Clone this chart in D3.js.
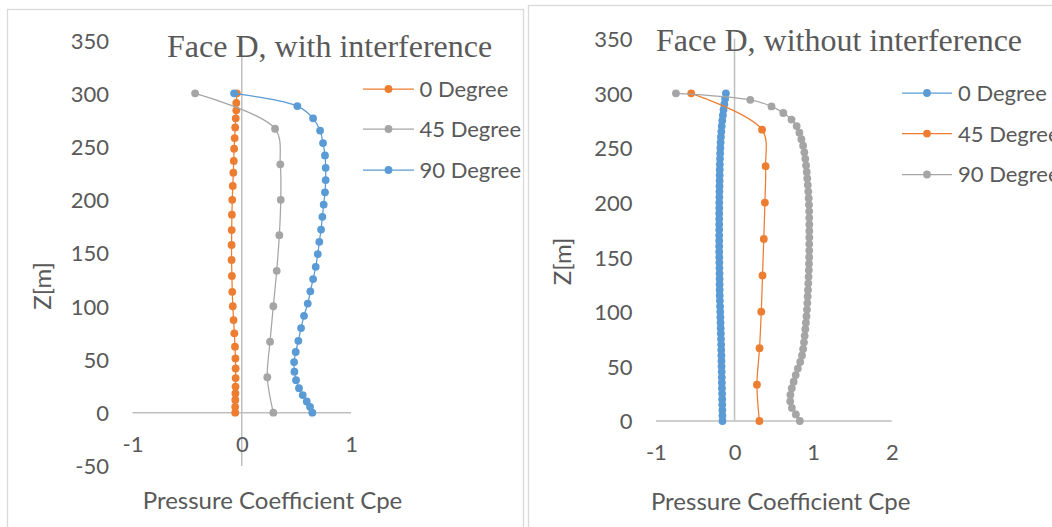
<!DOCTYPE html>
<html><head><meta charset="utf-8">
<script src="https://cdn.jsdelivr.net/npm/d3@7"></script>
<style>
html,body{margin:0;padding:0;background:#fff;}
svg{display:block;}
</style></head>
<body>
<svg id="chart" width="1052" height="527"></svg>
<script>
// ---------- DATA ----------
// Left chart: Face D, with interference
const leftTitle = "Face D, with interference";
const leftSeriesNames = ["0 Degree", "45 Degree", "90 Degree"];
const leftZ0 = [300,291,284,276.5,268,258,248,236.5,225.5,213,200,186,171.5,157.5,143.5,128.5,113.5,100,87,74.5,62,51,41.5,32.5,24.5,18,12,5.5,0];
const leftCp0 = [-0.045,-0.05,-0.05,-0.055,-0.06,-0.065,-0.07,-0.073,-0.077,-0.082,-0.087,-0.09,-0.092,-0.093,-0.093,-0.09,-0.087,-0.082,-0.075,-0.068,-0.062,-0.058,-0.056,-0.056,-0.057,-0.058,-0.059,-0.06,-0.06];
const leftZ45 = [300,266.7,233.3,200,166.7,133.3,100,66.7,33.3,0];
const leftCp45 = [-0.427,0.305,0.353,0.357,0.344,0.32,0.289,0.259,0.234,0.289];
const leftZ90 = [300,288,276.5,265,253.3,241.7,230,218.5,207,195.5,184,172,160.5,149,137,125.5,114,102.5,91,79.5,67.5,57,47.5,38.5,30.5,23,16.5,10.5,5.5,0];
const leftCp90 = [-0.07,0.509,0.653,0.717,0.744,0.762,0.768,0.768,0.762,0.75,0.738,0.726,0.71,0.696,0.677,0.653,0.628,0.604,0.57,0.543,0.518,0.494,0.479,0.482,0.497,0.524,0.558,0.595,0.625,0.646];
const leftXTicks = [-1, 0, 1];
const leftYTicks = [-50, 0, 50, 100, 150, 200, 250, 300, 350];

// Right chart: Face D, without interference
const rightTitle = "Face D, without interference";
const rightSeriesNames = ["0 Degree", "45 Degree", "90 Degree"];
const rightZ0 = [300,295,290,285,280,275,270,265,260,255,250,245,240,235,230,225,220,215,210,205,200,195,190,185,180,175,170,165,160,155,150,145,140,135,130,125,120,115,110,105,100,95,90,85,80,75,70,65,60,55,50,45,40,35,30,25,20,15,10,5,0];
const rightCp0 = [-0.11,-0.12,-0.13,-0.14,-0.148,-0.156,-0.163,-0.168,-0.173,-0.177,-0.18,-0.183,-0.185,-0.187,-0.188,-0.189,-0.19,-0.191,-0.192,-0.193,-0.194,-0.194,-0.195,-0.195,-0.195,-0.195,-0.195,-0.195,-0.195,-0.195,-0.194,-0.193,-0.192,-0.191,-0.19,-0.19,-0.189,-0.188,-0.186,-0.184,-0.182,-0.18,-0.178,-0.176,-0.174,-0.172,-0.17,-0.169,-0.167,-0.166,-0.165,-0.163,-0.162,-0.161,-0.16,-0.158,-0.157,-0.156,-0.155,-0.154,-0.153];
const rightZ45 = [300,266.7,233.3,200,166.7,133.3,100,66.7,33.3,0];
const rightCp45 = [-0.551,0.35,0.395,0.386,0.372,0.356,0.34,0.318,0.285,0.316];
const rightZ90 = [300,294,288,282,276,270,264,258,252,246,240,234,228,222,216,210,204,198,192,186,180,174,168,162,156,150,144,138,132,126,120,114,108,102,96,90,84,78,72,66,60,54,48,42,36,30,24,18,12,6,0];
const rightCp90 = [-0.745,0.2,0.47,0.62,0.725,0.79,0.825,0.85,0.872,0.888,0.9,0.91,0.918,0.925,0.932,0.938,0.943,0.947,0.949,0.95,0.951,0.951,0.951,0.95,0.95,0.949,0.947,0.945,0.942,0.938,0.934,0.93,0.926,0.921,0.915,0.908,0.9,0.892,0.883,0.872,0.858,0.835,0.805,0.778,0.752,0.728,0.71,0.708,0.73,0.78,0.83];
const rightXTicks = [-1, 0, 1, 2];
const rightYTicks = [0, 50, 100, 150, 200, 250, 300, 350];

const xAxisTitle = "Pressure Coefficient Cpe";
const yAxisTitle = "Z[m]";

const ORANGE = "#ED7D31", GRAY = "#A5A5A5", BLUE = "#5B9BD5";
const TEXT = "#595959", AXIS = "#BFBFBF", BORDER = "#D9D9D9";
const SANS = "Lato, 'Open Sans', sans-serif";
const SERIF = "'Liberation Serif', 'Times New Roman', serif";

const svg = d3.select("#chart");
svg.append("rect").attr("width",1052).attr("height",527).attr("fill","#fff");

function zip(z, cp){ return z.map((v,i)=>({z:v, cp:cp[i]})); }

function drawPanel(o){
  const g = svg.append("g");
  // chart border
  g.append("rect").attr("x",o.border[0]).attr("y",o.border[1]).attr("width",o.border[2]).attr("height",o.border[3])
    .attr("fill","none").attr("stroke",BORDER).attr("stroke-width",1.3);

  const x = d3.scaleLinear().domain(o.xDomain).range(o.xRange);
  const y = d3.scaleLinear().domain(o.yDomain).range(o.yRange);

  // axis lines (cross at zero)
  g.append("line").attr("x1",x(o.xDomain[0])).attr("x2",x(o.xDomain[1])).attr("y1",y(0)).attr("y2",y(0))
    .attr("stroke",AXIS).attr("stroke-width",1.5);
  g.append("line").attr("x1",x(0)).attr("x2",x(0)).attr("y1",y(o.yDomain[1])).attr("y2",y(o.yDomain[0]))
    .attr("stroke",AXIS).attr("stroke-width",1.5);

  // y tick labels
  const ya = g.append("g").attr("transform",`translate(${o.yLabelRight},0)`)
    .call(d3.axisLeft(y).tickValues(o.yTicks).tickSize(0).tickPadding(0).tickFormat(d=>String(d)));
  ya.select(".domain").remove();
  ya.selectAll("text").attr("fill",TEXT).attr("font-family",SANS).attr("font-size",o.fs).attr("dy","0.36em");

  // x tick labels
  const xa = g.append("g").attr("transform",`translate(0,${y(0)})`)
    .call(d3.axisBottom(x).tickValues(o.xTicks).tickSize(0).tickPadding(0).tickFormat(d=>String(d)));
  xa.select(".domain").remove();
  xa.selectAll("text").attr("fill",TEXT).attr("font-family",SANS).attr("font-size",o.fs).attr("y",o.xLabelOffset).attr("dy","0.36em");

  // series
  const line = d3.line().x(d=>x(d.cp)).y(d=>y(d.z)).curve(d3.curveCatmullRom.alpha(0.5));
  o.series.forEach(s=>{
    const data = zip(s.z, s.cp);
    g.append("path").datum(data).attr("d",line).attr("fill","none").attr("stroke",s.color).attr("stroke-width",1.25);
    g.append("g").selectAll("circle").data(data).join("circle")
      .attr("cx",d=>x(d.cp)).attr("cy",d=>y(d.z)).attr("r",3.9).attr("fill",s.color);
  });

  // title
  g.append("text").attr("x",o.titlePos[0]).attr("y",o.titlePos[1]).attr("fill",TEXT)
    .attr("font-family",SERIF).attr("font-size",32).text(o.title);

  // axis titles
  g.append("text").attr("x",o.xTitlePos[0]).attr("y",o.xTitlePos[1]).attr("text-anchor","middle")
    .attr("fill",TEXT).attr("font-family",SANS).attr("font-size",o.fsTitle).text(xAxisTitle);
  g.append("text").attr("transform",`translate(${o.yTitlePos[0]},${o.yTitlePos[1]}) rotate(-90)`)
    .attr("text-anchor","middle").attr("dy","0.36em")
    .attr("fill",TEXT).attr("font-family",SANS).attr("font-size",o.fsTitle).text(yAxisTitle);

  // legend
  o.series.forEach((s,i)=>{
    const ly = o.legend.ys[i];
    g.append("line").attr("x1",o.legend.x1).attr("x2",o.legend.x2).attr("y1",ly).attr("y2",ly)
      .attr("stroke",s.color).attr("stroke-width",1.25);
    g.append("circle").attr("cx",(o.legend.x1+o.legend.x2)/2).attr("cy",ly).attr("r",3.9).attr("fill",s.color);
    g.append("text").attr("x",o.legend.tx).attr("y",ly).attr("dy","0.36em").attr("fill",TEXT)
      .attr("font-family",SANS).attr("font-size",o.fs).text(s.name);
  });
}

drawPanel({
  border:[7.5,9.5,516,600],
  xDomain:[-1,1], xRange:[132.5,351],
  yDomain:[-50,350], yRange:[465.9,40.1],
  xTicks:leftXTicks, yTicks:leftYTicks,
  yLabelRight:109, xLabelOffset:31.5, fs:22, fsTitle:24,
  title:leftTitle, titlePos:[167,56.5],
  xTitlePos:[272.5,509], yTitlePos:[42,286],
  legend:{x1:363,x2:414,tx:419.5,ys:[89,129,170]},
  series:[
    {name:leftSeriesNames[0], z:leftZ0, cp:leftCp0, color:ORANGE},
    {name:leftSeriesNames[1], z:leftZ45, cp:leftCp45, color:GRAY},
    {name:leftSeriesNames[2], z:leftZ90, cp:leftCp90, color:BLUE}
  ]
});

drawPanel({
  border:[528.5,5.5,600,600],
  xDomain:[-1,2], xRange:[655.9,891.8],
  yDomain:[0,350], yRange:[421,38.7],
  xTicks:rightXTicks, yTicks:rightYTicks,
  yLabelRight:632.5, xLabelOffset:31.5, fs:22, fsTitle:24,
  title:rightTitle, titlePos:[656,51],
  xTitlePos:[780.7,510], yTitlePos:[562.5,261.5],
  legend:{x1:902,x2:952,tx:958,ys:[93,133.6,174.5]},
  series:[
    {name:rightSeriesNames[0], z:rightZ0, cp:rightCp0, color:BLUE},
    {name:rightSeriesNames[1], z:rightZ45, cp:rightCp45, color:ORANGE},
    {name:rightSeriesNames[2], z:rightZ90, cp:rightCp90, color:GRAY}
  ]
});
</script>
</body></html>
